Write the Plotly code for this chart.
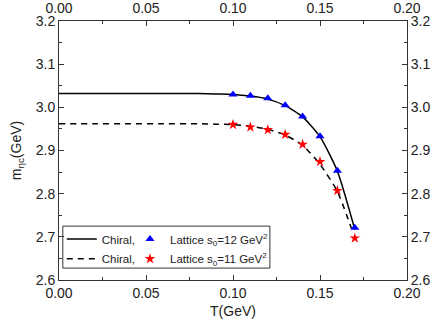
import plotly.graph_objects as go

# Data
T_lat = [0.10, 0.11, 0.12, 0.13, 0.14, 0.15, 0.16, 0.17]
m_lat12 = [3.030, 3.027, 3.021, 3.005, 2.979, 2.933, 2.853, 2.721]
m_lat11 = [2.960, 2.954, 2.948, 2.937, 2.914, 2.874, 2.807, 2.697]

T_chi12 = [0.0, 0.02, 0.04, 0.06, 0.08, 0.09, 0.10, 0.11, 0.12, 0.13, 0.14, 0.15, 0.16, 0.17]
m_chi12 = [3.032, 3.032, 3.032, 3.032, 3.032, 3.031, 3.030, 3.026, 3.019, 3.004, 2.978, 2.932, 2.852, 2.717]
T_chi11 = [0.0, 0.02, 0.04, 0.06, 0.08, 0.09, 0.10, 0.11, 0.12, 0.13, 0.14, 0.15, 0.16, 0.168]
m_chi11 = [2.962, 2.962, 2.962, 2.962, 2.962, 2.961, 2.960, 2.956, 2.949, 2.936, 2.912, 2.868, 2.805, 2.720]

x_ticks = [0.00, 0.05, 0.10, 0.15, 0.20]
y_ticks = [2.6, 2.7, 2.8, 2.9, 3.0, 3.1, 3.2]

FONT = "Arial, Liberation Sans, sans-serif"
FS = 14
LFS = 11.5

fig = go.Figure()
fig.add_trace(go.Scatter(x=T_chi12, y=m_chi12, mode="lines", name="Chiral,",
                         line=dict(color="black", width=1.5, shape="spline", smoothing=0.6),
                         legend="legend"))
fig.add_trace(go.Scatter(x=T_lat, y=m_lat12, mode="markers", name="Lattice s<sub>0</sub>=12 GeV<sup>2</sup>",
                         marker=dict(symbol="triangle-up", color="#0000ff", size=8),
                         legend="legend2"))
fig.add_trace(go.Scatter(x=T_chi11, y=m_chi11, mode="lines", name="Chiral,",
                         line=dict(color="black", width=1.5, dash="6px,5px", shape="spline", smoothing=0.6),
                         legend="legend3"))
fig.add_trace(go.Scatter(x=T_lat, y=m_lat11, mode="markers", name="Lattice s<sub>0</sub>=11 GeV<sup>2</sup>",
                         marker=dict(symbol="star", color="#ff0000", size=8),
                         legend="legend4"))
# invisible trace to drive top and right axes
fig.add_trace(go.Scatter(x=[0, 0.2], y=[2.6, 3.2], xaxis="x2", yaxis="y2", mode="markers",
                         marker=dict(opacity=0), showlegend=False, hoverinfo="skip"))

axis_common = dict(ticks="inside", ticklen=5, tickwidth=1, tickcolor="#333",
                   showline=True, linecolor="#333", linewidth=1, showgrid=False,
                   zeroline=False, automargin=False,
                   tickfont=dict(size=FS, color="#222", family=FONT))

def leg(x, y):
    return dict(x=x, y=y, xanchor="left", yanchor="top", orientation="h",
                bgcolor="rgba(0,0,0,0)", borderwidth=0,
                font=dict(size=LFS, family=FONT, color="#222"), itemwidth=30)

fig.update_layout(
    width=434, height=320,
    margin=dict(l=59, r=27, t=21, b=40),
    paper_bgcolor="white", plot_bgcolor="white",
    font=dict(family=FONT, color="#222"),
    xaxis=dict(range=[0, 0.2], tickvals=x_ticks, tickformat=".2f",
               minor=dict(ticks="inside", ticklen=3, dtick=0.025, tickcolor="#333"),
               title=dict(text="T(GeV)", font=dict(size=FS), standoff=6), **axis_common),
    xaxis2=dict(range=[0, 0.2], tickvals=x_ticks, tickformat=".2f", overlaying="x", side="top",
                minor=dict(ticks="inside", ticklen=3, dtick=0.025, tickcolor="#333"),
                ticklabelstandoff=1, **axis_common),
    yaxis=dict(range=[2.6, 3.2], tickvals=y_ticks, tickformat=".1f",
               minor=dict(ticks="inside", ticklen=3, dtick=0.05, tickcolor="#333"),
               title=dict(text="m<sub>ηc</sub>(GeV)", font=dict(size=FS), standoff=10), **axis_common),
    yaxis2=dict(range=[2.6, 3.2], tickvals=y_ticks, tickformat=".1f", overlaying="y", side="right",
                minor=dict(ticks="inside", ticklen=3, dtick=0.05, tickcolor="#333"),
                **axis_common),
    legend=leg(0.008, 0.214),
    legend2=leg(0.204, 0.214),
    legend3=leg(0.008, 0.138),
    legend4=leg(0.204, 0.138),
    shapes=[dict(type="rect", xref="paper", yref="paper", x0=0.011, x1=0.606, y0=0.046, y1=0.208,
                 line=dict(color="#333", width=1), fillcolor="rgba(0,0,0,0)")],
)

fig.write_html("out.html")
